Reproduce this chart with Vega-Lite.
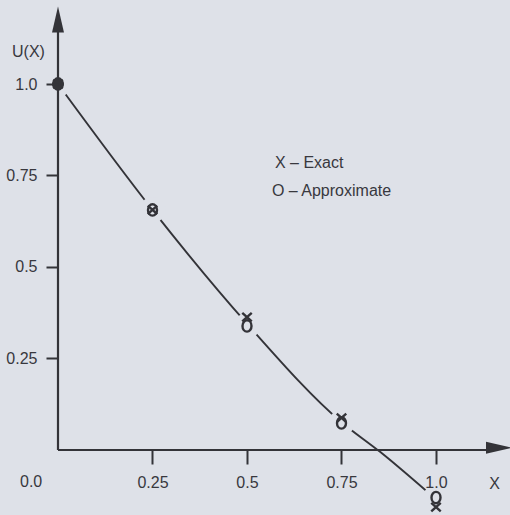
{
  "$schema": "https://vega.github.io/schema/vega-lite/v6.json",
  "width": 510,
  "height": 515,
  "padding": 0,
  "autosize": {"type": "none"},
  "background": "#dee1e8",
  "config": {"view": {"stroke": null}, "font": "Liberation Sans"},
  "datasets": {
    "curve": [
      {"x": 0, "y": 1.0},
      {"x": 0.25, "y": 0.656},
      {"x": 0.5, "y": 0.345},
      {"x": 0.75, "y": 0.076},
      {"x": 0.852, "y": -0.005},
      {"x": 1.0, "y": -0.135}
    ],
    "points": [
      {"x": 0, "y": 1.0, "kind": "exact"},
      {"x": 0, "y": 1.0, "kind": "approx"},
      {"x": 0.25, "y": 0.656, "kind": "exact"},
      {"x": 0.25, "y": 0.656, "kind": "approx"},
      {"x": 0.5, "y": 0.363, "kind": "exact"},
      {"x": 0.5, "y": 0.339, "kind": "approx"},
      {"x": 0.75, "y": 0.088, "kind": "exact"},
      {"x": 0.75, "y": 0.074, "kind": "approx"},
      {"x": 1.0, "y": -0.156, "kind": "exact"},
      {"x": 1.0, "y": -0.13, "kind": "approx"}
    ],
    "axes": [
      {"x": 0, "y": 0, "x2": 0, "y2": 1.16},
      {"x": 0, "y": 0, "x2": 1.15, "y2": 0}
    ],
    "notes": [
      {"text": "X – Exact", "x": 0.574, "y": 0.77},
      {"text": "O – Approximate", "x": 0.566, "y": 0.694},
      {"text": "0.0", "x": -0.1005, "y": -0.101}
    ]
  },
  "encoding": {
    "x": {
      "field": "x", "type": "quantitative",
      "scale": {"domain": [-0.15344, 1.19577], "nice": false, "zero": false},
      "axis": {
        "orient": "bottom", "offset": -65, "values": [0.25, 0.5, 0.75, 1],
        "format": ".2~f", "labelExpr": "datum.value === 1 ? '1.0' : datum.label",
        "domain": false, "grid": false, "zindex": 1,
        "tickSize": 14, "tickWidth": 2, "tickColor": "#333338",
        "labelPadding": 10, "labelFontSize": 16, "labelFont": "Liberation Sans", "labelColor": "#38383e",
        "labelBaseline": "top",
        "title": "X", "titleX": 494, "titleY": 25, "titleAlign": "center", "titleBaseline": "top",
        "titleFontSize": 16, "titleFontWeight": "normal", "titleFont": "Liberation Sans", "titleColor": "#38383e"
      }
    },
    "y": {
      "field": "y", "type": "quantitative",
      "scale": {"domain": [-0.1776, 1.22951], "nice": false, "zero": false},
      "axis": {
        "orient": "left", "offset": -58, "values": [0.25, 0.5, 0.75, 1],
        "format": ".2~f", "labelExpr": "datum.value === 1 ? '1.0' : datum.label",
        "domain": false, "grid": false, "zindex": 1,
        "tickSize": 12, "tickWidth": 2, "tickColor": "#333338",
        "labelPadding": 9, "labelFontSize": 16, "labelFont": "Liberation Sans", "labelColor": "#38383e",
        "title": "U(X)", "titleAngle": 0, "titleX": -30, "titleY": 43, "titleAlign": "center", "titleBaseline": "top",
        "titleFontSize": 16, "titleFontWeight": "normal", "titleFont": "Liberation Sans", "titleColor": "#38383e"
      }
    }
  },
  "layer": [
    {
      "data": {"name": "curve"},
      "mark": {"type": "line", "interpolate": "monotone", "color": "#333338", "strokeWidth": 1.9}
    },
    {
      "data": {"name": "points"},
      "transform": [{"filter": "datum.kind === 'approx'"}],
      "mark": {"type": "point", "shape": "circle", "filled": true, "size": 676, "color": "#dee1e8", "opacity": 1, "strokeWidth": 0}
    },
    {
      "data": {"name": "axes"},
      "mark": {"type": "rule", "color": "#333338", "strokeWidth": 2.2},
      "encoding": {"x2": {"field": "x2"}, "y2": {"field": "y2"}}
    },
    {
      "data": {"values": [{"x": 0, "y": 1.176}]},
      "mark": {"type": "point", "shape": "M0,-1L0.46,1L-0.46,1Z", "filled": true, "size": 676, "color": "#333338", "opacity": 1}
    },
    {
      "data": {"values": [{"x": 1.1667, "y": 0.006}]},
      "mark": {"type": "point", "shape": "M0,-1L0.46,1L-0.46,1Z", "angle": 90, "filled": true, "size": 676, "color": "#333338", "opacity": 1}
    },
    {
      "data": {"name": "points"},
      "transform": [{"filter": "datum.kind === 'approx'"}],
      "mark": {"type": "point", "shape": "M0,-1.2A0.95,1.2 0 1,1 0,1.2A0.95,1.2 0 1,1 0,-1.2Z", "filled": false, "size": 90, "color": "#333338", "strokeWidth": 2.4, "opacity": 1}
    },
    {
      "data": {"name": "points"},
      "transform": [{"filter": "datum.kind === 'exact'"}],
      "mark": {"type": "point", "shape": "M-1,-0.9L1,0.9M1,-0.9L-1,0.9", "filled": false, "size": 90, "color": "#333338", "strokeWidth": 2.4, "opacity": 1}
    },
    {
      "data": {"name": "points"},
      "transform": [{"filter": "datum.x === 0 && datum.kind === 'approx'"}],
      "mark": {"type": "point", "shape": "circle", "filled": true, "size": 144, "color": "#333338", "opacity": 1}
    },
    {
      "data": {"name": "notes"},
      "mark": {"type": "text", "align": "left", "baseline": "alphabetic", "font": "Liberation Sans", "fontSize": 16, "color": "#38383e"},
      "encoding": {"text": {"field": "text"}}
    }
  ]
}
